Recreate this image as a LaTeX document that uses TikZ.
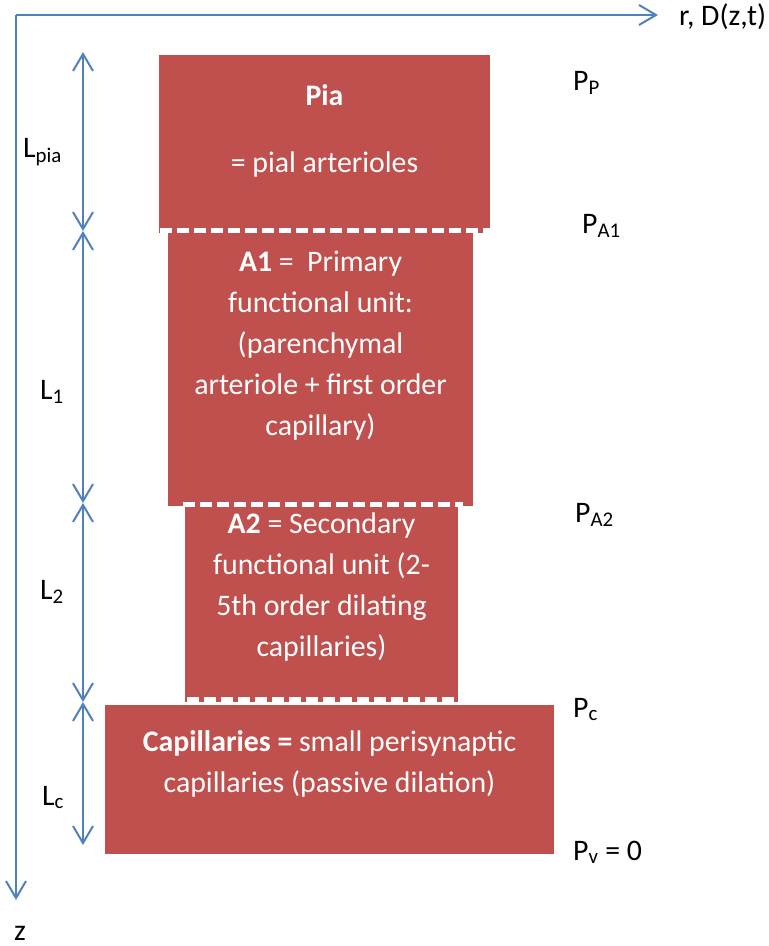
\documentclass[tikz,border=0pt]{standalone}
\usepackage{fontspec}
\setmainfont{Carlito}
\usetikzlibrary{arrows.meta}
\definecolor{layerred}{HTML}{C0504D}
\definecolor{axisblue}{HTML}{4F81BD}

\begin{document}
\begin{tikzpicture}[x=1pt, y=-1pt,
    >={Straight Barb[length=17pt,width=20pt]},
    every node/.style={font=\fontsize{29.8}{41}\selectfont},
    axis/.style={axisblue, line width=2pt, ->},
    dim/.style={axisblue, line width=2pt, <->},
    layer/.style={fill=layerred},
    sep/.style={white, line width=4.5pt, dash pattern=on 12pt off 5pt},
    lbl/.style={anchor=base west, inner sep=0pt},
    intext/.style={white, anchor=base, align=center, inner sep=0pt}]
    \useasboundingbox (0,0) rectangle (769,946);

    % axes
    \coordinate (o) at (16,15);
    \coordinate (rend) at (658,15);
    \coordinate (zend) at (16,900);
    \draw[axis] (o) -- (rend);
    \draw[axis] (o) -- (zend);
    \node[lbl] (rlab) at (679,25) {r, D(z,t)};
    \node[lbl] (zlab) at (14,940) {z};

    % layers
    \fill[layer] (159,55) rectangle (490,233);
    \fill[layer] (168,233) rectangle (473,506);
    \fill[layer] (185,506) rectangle (458,702);
    \fill[layer] (105,705) rectangle (554,854);
    \draw[sep] (160,230.5) -- (490,230.5);
    \draw[sep] (183,504.5) -- (463,504.5);
    \draw[sep] (187,699.5) -- (457,699.5);

    % text of the layers (anchored on the last line)
    \node[intext] (piatxt) at (324.5,172) {\textbf{Pia}\\[26pt]= pial arterioles};
    \node[intext] (aonetxt) at (320.5,435) {\textbf{A1} =\ \ Primary\\functional unit:\\(parenchymal\\arteriole + first order\\capillary)};
    \node[intext] (atwotxt) at (321.5,656) {\textbf{A2} = Secondary\\functional unit (2-\\5th order dilating\\capillaries)};
    \node[intext] (capstxt) at (329.5,792) {\textbf{Capillaries =} small perisynaptic\\capillaries (passive dilation)};

    % lengths
    \coordinate (d0) at (83,52);
    \coordinate (d1) at (83,231);
    \coordinate (d2) at (83,503);
    \coordinate (d3) at (83,702);
    \coordinate (d4) at (83,845);
    \foreach \a/\b in {d0/d1, d1/d2, d2/d3, d3/d4} {
        \draw[dim] (\a) -- (\b);
    }
    \node[lbl] (lpia) at (23,157) {L\textsubscript{pia}};
    \node[lbl] (lone) at (40,399) {L\textsubscript{1}};
    \node[lbl] (ltwo) at (40,599) {L\textsubscript{2}};
    \node[lbl] (lc) at (42,805) {L\textsubscript{c}};

    % pressures
    \node[lbl] (pp) at (573,90) {P\textsubscript{P}};
    \node[lbl] (paone) at (582,233) {P\textsubscript{A1}};
    \node[lbl] (patwo) at (575,522) {P\textsubscript{A2}};
    \node[lbl] (pc) at (573,717) {P\textsubscript{c}};
    \node[lbl] (pv) at (573,860) {P\textsubscript{v} = 0};
\end{tikzpicture}
\end{document}
